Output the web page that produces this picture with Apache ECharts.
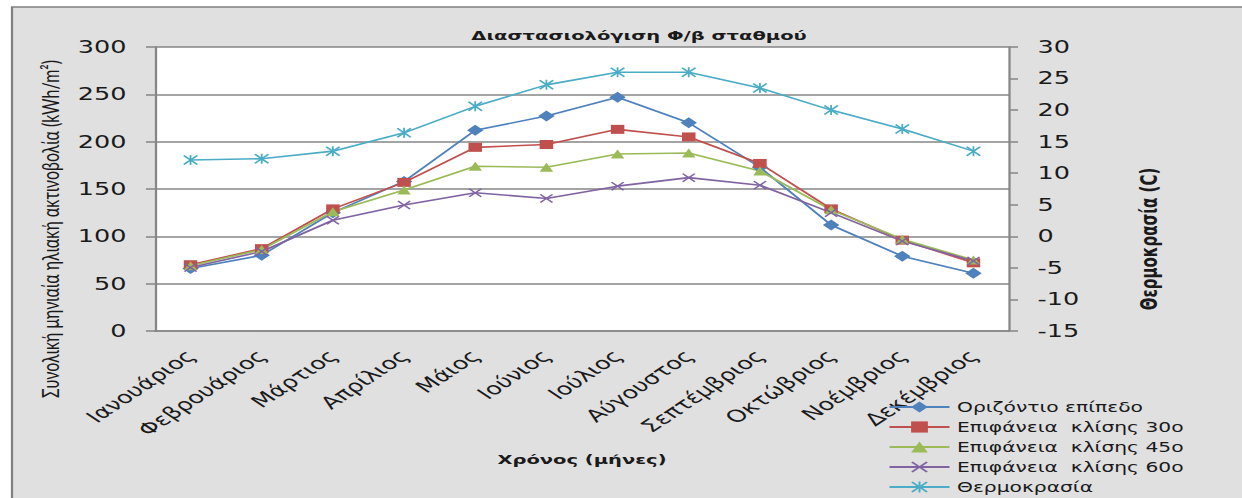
<!DOCTYPE html>
<html><head><meta charset="utf-8">
<script src="https://cdn.jsdelivr.net/npm/echarts@6/dist/echarts.min.js"></script>
<style>
html,body{margin:0;padding:0;background:#fff;overflow:hidden;}
#wrap{width:1242px;height:498px;overflow:hidden;position:relative;}
#chart{width:828px;height:498px;transform:scaleX(1.5);transform-origin:0 0;}
</style></head><body><div id="wrap"><div id="chart"></div></div>
<script>
const months = ['Ιανουάριος','Φεβρουάριος','Μάρτιος','Απρίλιος','Μάιος','Ιούνιος','Ιούλιος','Αύγουστος','Σεπτέμβριος','Οκτώβριος','Νοέμβριος','Δεκέμβριος'];
const horizontal = [66,80,125,158,212,227,247,220,173,112,79,61];
const tilt30 = [70,87,129,157,194,197,213,205,177,129,96,72];
const tilt45 = [69,86,126,149,174,173,187,188,169,128,97,75];
const tilt60 = [67,84,117,133,146,140,153,162,154,125,95,74];
const temperature = [12.1,12.3,13.5,16.4,20.6,24.0,26.0,26.0,23.5,20.0,17.0,13.5];
const seriesNames = ['Οριζόντιο επίπεδο','Επιφάνεια  κλίσης 30ο','Επιφάνεια  κλίσης 45ο','Επιφάνεια  κλίσης 60ο','Θερμοκρασία'];

const xPath = 'path://M0,1L1,0L5,4L9,0L10,1L6,5L10,9L9,10L5,6L1,10L0,9L4,5Z';
const starPath = 'path://M0,1L1,0L5,4L9,0L10,1L6,5L10,9L9,10L5,6L1,10L0,9L4,5ZM4.4,0L5.6,0L5.6,10L4.4,10Z';
const FONT = 'DejaVu Sans';
const chart = echarts.init(document.getElementById('chart'), null, {renderer: 'svg'});
function mk(name, data, color, symbol, size, yIdx) {
  return {
    name: name, type: 'line', data: data, yAxisIndex: yIdx,
    symbol: symbol, symbolSize: size, showAllSymbol: true,
    itemStyle: {color: color},
    lineStyle: {color: color, width: 1.6},
    emphasis: {disabled: true}, animation: false
  };
}
chart.setOption({
  backgroundColor: '#ffffff',
  animation: false,
  graphic: [{
    type: 'rect', z: -100, silent: true,
    shape: {x: 8, y: 7, width: 900, height: 600},
    style: {fill: '#e0e0e0', stroke: '#808080', lineWidth: 1.5}
  }],
  title: {
    text: 'Διαστασιολόγιση Φ/β σταθμού',
    left: 421, top: 24, textAlign: 'center',
    textStyle: {fontFamily: FONT, fontSize: 13, fontWeight: 'bold', color: '#1a1a1a'}
  },
  legend: {
    orient: 'vertical', left: 592, top: 400, itemWidth: 40, itemHeight: 14, itemGap: 6,
    padding: 0,
    data: seriesNames,
    textStyle: {fontFamily: FONT, fontSize: 13.5, color: '#1a1a1a'}
  },
  grid: {left: 103.3, right: 155.3, top: 47, bottom: 167, show: true, backgroundColor: '#ffffff', borderWidth: 0},
  xAxis: {
    type: 'category', data: months, boundaryGap: true,
    name: 'Χρόνος (μήνες)', nameLocation: 'middle', nameGap: 122,
    nameTextStyle: {fontFamily: FONT, fontSize: 13, fontWeight: 'bold', color: '#1a1a1a'},
    axisLine: {lineStyle: {color: '#868686', width: 1.5}},
    axisTick: {show: false},
    axisLabel: {rotate: 45, margin: 22, interval: 0, fontFamily: FONT, fontSize: 17, color: '#1a1a1a'}
  },
  yAxis: [{
    type: 'value', min: 0, max: 300, interval: 50, position: 'left',
    name: 'Συνολική μηνιαία ηλιακή ακτινοβολία (kWh/m²)', nameLocation: 'middle', nameGap: 62, nameRotate: 90,
    nameTextStyle: {fontFamily: 'Lato', fontSize: 16, color: '#1a1a1a', padding: [0, 80, 0, 0]},
    axisLine: {show: true, lineStyle: {color: '#868686', width: 1.5}},
    axisTick: {show: true, length: 6, lineStyle: {color: '#868686', width: 1.5}},
    axisLabel: {margin: 19, fontFamily: FONT, fontSize: 17, color: '#1a1a1a'},
    splitLine: {show: true, lineStyle: {color: '#868686', width: 1.5}}
  }, {
    type: 'value', min: -15, max: 30, interval: 5, position: 'right',
    name: 'Θερμοκρασία (C)', nameLocation: 'middle', nameGap: 86, nameRotate: 90,
    nameTextStyle: {fontFamily: FONT, fontSize: 15, fontWeight: 'bold', color: '#1a1a1a', padding: [0, 100, 0, 0]},
    axisLine: {show: true, lineStyle: {color: '#868686', width: 1.5}},
    axisTick: {show: true, length: 6, lineStyle: {color: '#868686', width: 1.5}},
    axisLabel: {margin: 19, fontFamily: FONT, fontSize: 17, color: '#1a1a1a'},
    splitLine: {show: false}
  }],
  series: [
    mk(seriesNames[0], horizontal, '#4f81bd', 'diamond', 11, 0),
    mk(seriesNames[1], tilt30, '#c0504d', 'rect', 9, 0),
    mk(seriesNames[2], tilt45, '#9bbb59', 'triangle', 9, 0),
    mk(seriesNames[3], tilt60, '#8064a2', xPath, 9, 0),
    mk(seriesNames[4], temperature, '#4bacc6', starPath, 10, 1)
  ]
});
</script></body></html>
